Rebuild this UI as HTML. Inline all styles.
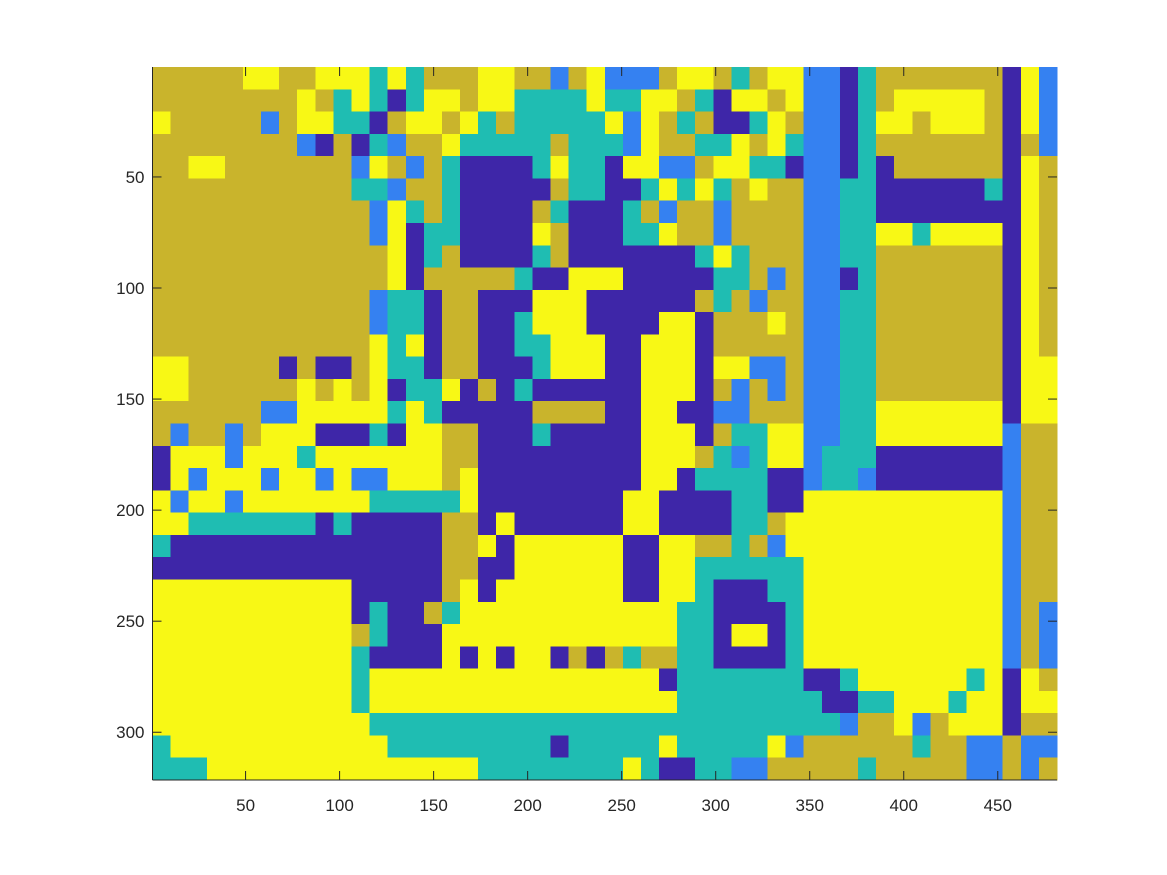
<!DOCTYPE html>
<html><head><meta charset="utf-8">
<style>
html,body{margin:0;padding:0;background:#fff;}
svg{display:block;font-family:"Liberation Sans",Arial,sans-serif;}
</style></head>
<body>
<svg id="chart" width="1167" height="875" viewBox="0 0 1167 875" xmlns="http://www.w3.org/2000/svg">
<rect x="0" y="0" width="1167" height="875" fill="#ffffff"/>
<g id="cells" shape-rendering="crispEdges"></g>
<g id="axes"></g>
</svg>
<script>
// cluster label per coarse cell (rows top->bottom), 0..4
const rowsTop = [
"33333443344424233344331341113443234411023333333041",
"33333333432420244344222242244320443411023444443041",
"43333313442203443423222224143230024311024434443041",
"33333333103021334222223222143322434211023333333031",
"33443333333143132000024220441134422011020333333043",
"33333333333221332000003220024242343311220000002043",
"33333333333314232000032000231331333311220000000043",
"33333333333314022000043000224331333311224424444043",
"33333333333334023000023000000024233311223333333043",
"33333333333334033333200444000002231311023333333043",
"33333333333312203300044400000032313311223333333043",
"33333333333312203300244400004403334311223333333043",
"33333333333342403300224440044403333311223333333043",
"44333330300342203300024440044404411311223333333044",
"44333333434340224030200000044403131311223333333044",
"33333311444442420000033330044001133311224444444044"
];
const rowsBottomLeft = [
"3133134440002044330002000",
"0444144424444444330000000",
"0414441441411444340000000",
"4144144444442222240000000",
"4422222220200000330400000",
"2000000000000000334044444",
"0000000000000000330044444",
"4444444444400000340444444",
"4444444444402003244444444",
"4444444444432000444444444",
"4444444444420000404044030",
"4444444444424444444444444",
"4444444444424444444444444",
"4444444444442222222222222",
"2444444444444222222222022",
"2224444444444444442222222"
];
const rowsBottomRight = [
"0044403224411224444444133",
"0044432124412220000000133",
"0044022220012210000000133",
"0440000220044444444444133",
"0440000223444444444444133",
"4004433231444444444444133",
"4004422222244444444444133",
"4004420002244444444444133",
"4444220000244444444444131",
"4444220440244444444444131",
"3233220000244444444444131",
"4440222222200244444424043",
"4444222222220022444244044",
"2222222222222133413444033",
"2224222224133333323311311",
"2420022113333323333311313"
];
const palette = ["#3e26a8","#3581f1","#1fbdb2","#c9b42c","#f8f815"];
const xTicks = [50,100,150,200,250,300,350,400,450];
const yTicks = [50,100,150,200,250,300];
const imgW = 481, imgH = 321;

const L = 152.5, T = 67, R = 1057, B = 780;
function xScale(v){ return L + (v - 0.5) * (R - L) / imgW; }
function yScale(v){ return T + (v - 0.5) * (B - T) / imgH; }

const grid = [];
for (let i = 0; i < rowsTop.length; i++) grid.push(rowsTop[i]);
for (let i = 0; i < rowsBottomLeft.length; i++) grid.push(rowsBottomLeft[i] + rowsBottomRight[i]);

const NS = "http://www.w3.org/2000/svg";
const cellsG = document.getElementById("cells");
const nR = grid.length, nC = grid[0].length;
const cw = imgW / nC, ch = imgH / nR;
for (let r = 0; r < nR; r++) {
  for (let c = 0; c < nC; c++) {
    const k = +grid[r][c];
    const x0 = xScale(0.5 + c * cw), x1 = xScale(0.5 + (c + 1) * cw);
    const y0 = yScale(0.5 + r * ch), y1 = yScale(0.5 + (r + 1) * ch);
    const rect = document.createElementNS(NS, "rect");
    rect.setAttribute("x", x0.toFixed(2));
    rect.setAttribute("y", y0.toFixed(2));
    rect.setAttribute("width", (x1 - x0 + 0.6).toFixed(2));
    rect.setAttribute("height", (y1 - y0 + 0.6).toFixed(2));
    rect.setAttribute("fill", palette[k]);
    
    
    cellsG.appendChild(rect);
  }
}

const axesG = document.getElementById("axes");
function line(x1,y1,x2,y2,name){
  const l = document.createElementNS(NS,"line");
  l.setAttribute("x1",x1); l.setAttribute("y1",y1);
  l.setAttribute("x2",x2); l.setAttribute("y2",y2);
  l.setAttribute("stroke","#262626"); l.setAttribute("stroke-width","1");
  
  
  axesG.appendChild(l);
}
function text(x,y,s,anchor,name){
  const t = document.createElementNS(NS,"text");
  t.setAttribute("x",x); t.setAttribute("y",y);
  t.setAttribute("text-anchor",anchor);
  t.setAttribute("font-size","17");
  t.setAttribute("fill","#262626");
  t.textContent = s;
  
  
  axesG.appendChild(t);
}
line(L, B, R, B, "x-axis-line");
line(L, T, L, B, "y-axis-line");
xTicks.forEach(v => {
  const x = xScale(v);
  line(x, B, x, B - 9, "x-tick");
  line(x, T, x, T + 9, "x-tick-top");
  text(x, B + 31, String(v), "middle", "x-tick-label");
});
yTicks.forEach(v => {
  const y = yScale(v);
  line(L, y, L + 9, y, "y-tick");
  line(R, y, R - 9, y, "y-tick-right");
  text(L - 8, y + 6, String(v), "end", "y-tick-label");
});
</script>
</body></html>
